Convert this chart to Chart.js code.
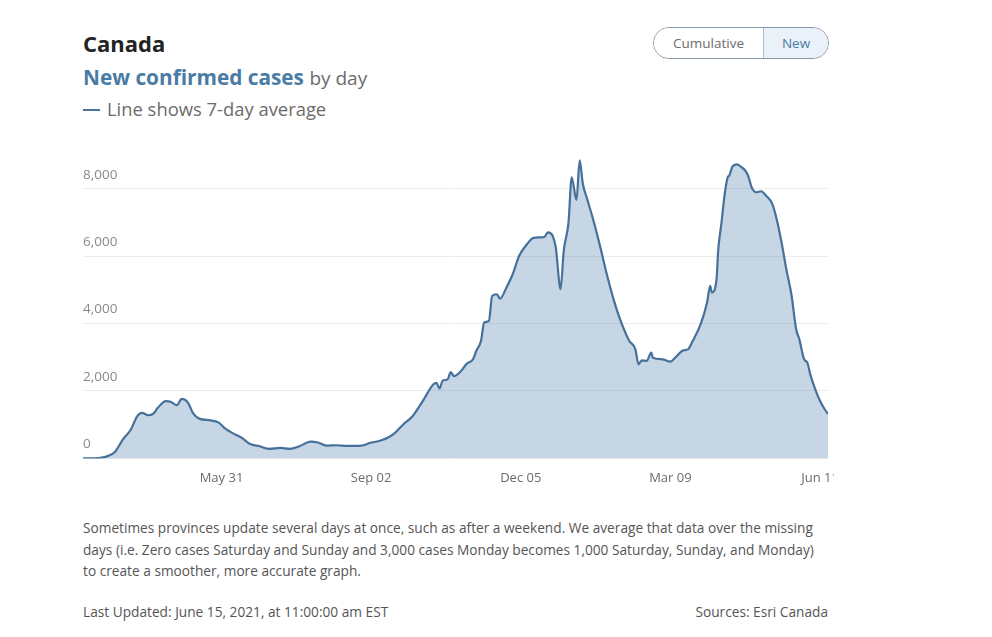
<!DOCTYPE html>
<html>
<head>
<meta charset="utf-8">
<script src="https://cdn.jsdelivr.net/npm/chart.js@4"></script>
<style>
  html, body { margin: 0; padding: 0; background: #fff; }
  body { width: 992px; height: 637px; position: relative; overflow: hidden; font-family: "Open Sans", sans-serif; }
  .abs { position: absolute; white-space: nowrap; }
  #place { left: 83px; top: 32px; font-size: 22px; line-height: 22px; font-weight: 700; color: #222; }
  #subtitle { left: 83px; top: 67px; font-size: 20.8px; line-height: 21px; color: #6b6b6b; }
  #subtitle b { color: #4a7ba4; font-weight: 700; }
  #subtitle span { font-size: 19px; }
  #legend { left: 83px; top: 99px; font-size: 18.4px; line-height: 19px; color: #6b6b6b; }
  #legend i { display: inline-block; width: 17px; height: 2px; background: #4a7399; vertical-align: middle; margin-right: 7px; position: relative; top: -1px; }
  #toggle { left: 653px; top: 27px; width: 174px; height: 30px; border: 1px solid #8797a6; border-radius: 16px; overflow: hidden; display: flex; font-size: 13.5px; }
  #toggle div { display: flex; align-items: center; justify-content: center; }
  #toggle .off { width: 109px; color: #6d6d6d; background: #fff; }
  #toggle .on { flex: 1; color: #4a7ba4; background: #eaf1f8; border-left: 1px solid #a9bccd; }
  #wrap { left: 83px; top: 155px; width: 751px; height: 343px; }
  #note { left: 83px; top: 517px; font-size: 13.7px; line-height: 21.5px; color: #555; }
  #updated { left: 83px; top: 601px; font-size: 13.7px; line-height: 21.5px; color: #555; }
  #sources { right: 164px; top: 601px; font-size: 13.7px; line-height: 21.5px; color: #555; }
</style>
</head>
<body>
<div class="abs" id="place">Canada</div>
<div class="abs" id="subtitle"><b>New confirmed cases</b> <span>by day</span></div>
<div class="abs" id="legend"><i></i>Line shows 7-day average</div>
<div class="abs" id="toggle"><div class="off">Cumulative</div><div class="on">New</div></div>
<div class="abs" id="wrap"><canvas id="cases"></canvas></div>
<div class="abs" id="note">Sometimes provinces update several days at once, such as after a weekend. We average that data over the missing<br>days (i.e. Zero cases Saturday and Sunday and 3,000 cases Monday becomes 1,000 Saturday, Sunday, and Monday)<br>to create a smoother, more accurate graph.</div>
<div class="abs" id="updated">Last Updated: June 15, 2021, at 11:00:00 am EST</div>
<div class="abs" id="sources">Sources: Esri Canada</div>
<script>
const dates = [
  "2020-03-05", "2020-03-12", "2020-03-16", "2020-03-20", "2020-03-25", "2020-03-30",
  "2020-04-04", "2020-04-08", "2020-04-11", "2020-04-15", "2020-04-18", "2020-04-21",
  "2020-04-26", "2020-04-29", "2020-05-03", "2020-05-06", "2020-05-10", "2020-05-13",
  "2020-05-17", "2020-05-24", "2020-05-29", "2020-06-02", "2020-06-07", "2020-06-13",
  "2020-06-18", "2020-06-24", "2020-06-30", "2020-07-07", "2020-07-13", "2020-07-19",
  "2020-07-26", "2020-07-30", "2020-08-05", "2020-08-11", "2020-08-18", "2020-08-27",
  "2020-09-01", "2020-09-08", "2020-09-13", "2020-09-17", "2020-09-22", "2020-09-28",
  "2020-10-05", "2020-10-11", "2020-10-13", "2020-10-15", "2020-10-17", "2020-10-20",
  "2020-10-22", "2020-10-24", "2020-10-28", "2020-11-01", "2020-11-05", "2020-11-07",
  "2020-11-10", "2020-11-12", "2020-11-15", "2020-11-17", "2020-11-20", "2020-11-22",
  "2020-11-26", "2020-11-30", "2020-12-04", "2020-12-09", "2020-12-13", "2020-12-17",
  "2020-12-20", "2020-12-22", "2020-12-25", "2020-12-27", "2020-12-30", "2021-01-01",
  "2021-01-04", "2021-01-06", "2021-01-09", "2021-01-11", "2021-01-13", "2021-01-16",
  "2021-01-20", "2021-01-24", "2021-01-28", "2021-02-01", "2021-02-05", "2021-02-11",
  "2021-02-15", "2021-02-17", "2021-02-19", "2021-02-22", "2021-02-25", "2021-02-26",
  "2021-03-04", "2021-03-09", "2021-03-13", "2021-03-17", "2021-03-20", "2021-03-23",
  "2021-03-28", "2021-04-01", "2021-04-03", "2021-04-04", "2021-04-07", "2021-04-08",
  "2021-04-10", "2021-04-12", "2021-04-14", "2021-04-15", "2021-04-17", "2021-04-20",
  "2021-04-22", "2021-04-25", "2021-04-27", "2021-04-29", "2021-05-02", "2021-05-05",
  "2021-05-08", "2021-05-12", "2021-05-15", "2021-05-18", "2021-05-21", "2021-05-24",
  "2021-05-27", "2021-05-29", "2021-06-01", "2021-06-03", "2021-06-05", "2021-06-08",
  "2021-06-11", "2021-06-14", "2021-06-16",
];
const newCases = [
  0, 5, 20, 60, 190, 560,
  850, 1250, 1350, 1280, 1320, 1500,
  1700, 1680, 1580, 1765, 1650, 1350,
  1180, 1130, 1070, 900, 750, 600,
  425, 360, 280, 310, 280, 360,
  500, 480, 380, 390, 370, 380,
  455, 530, 625, 755, 1000, 1250,
  1745, 2190, 2240, 2075, 2310, 2340,
  2560, 2440, 2570, 2805, 2940, 3185,
  3480, 4030, 4080, 4820, 4870, 4740,
  5070, 5470, 6010, 6360, 6540, 6555,
  6575, 6705, 6605, 6260, 5020, 6160,
  7000, 8340, 7670, 8840, 8145, 7650,
  7000, 6260, 5470, 4770, 4175, 3500,
  3235, 2790, 2910, 2890, 3135, 2985,
  2940, 2870, 3035, 3205, 3235, 3480,
  3980, 4620, 5120, 4920, 5320, 6160,
  6955, 7800, 8340, 8390, 8660, 8720,
  8660, 8540, 8360, 8045, 7895, 7925,
  7800, 7550, 7050, 6360, 5565, 4870,
  3830, 3530, 2940, 2840, 2470, 2045,
  1700, 1450, 1320,
];
const xTickDates = ["2020-05-31", "2020-09-02", "2020-12-05", "2021-03-09", "2021-06-11"];
const yTicks = [0, 2000, 4000, 6000, 8000];
const monthNames = ["Jan", "Feb", "Mar", "Apr", "May", "Jun", "Jul", "Aug", "Sep", "Oct", "Nov", "Dec"];

// dates become day numbers so the x axis can be a plain linear scale
const dayNum = (s) => {
  let p = s.split("-").map(Number);
  return Date.UTC(p[0], p[1] - 1, p[2]) / 86400000;
};
const dayLabel = (n) => {
  let d = new Date(n * 86400000);
  return `${monthNames[d.getUTCMonth()]} ${String(d.getUTCDate()).padStart(2, "0")}`;
};

let canvas = document.querySelector("#cases");
let ctx = canvas.getContext("2d");

let casesChart = new Chart(ctx, {
  type: "line",
  data: {
    datasets: [
      {
        data: dates.map((d, i) => ({ x: dayNum(d), y: newCases[i] })),
        borderColor: "#46719a",
        borderWidth: 2.2,
        backgroundColor: "rgba(70, 120, 165, 0.3)",
        fill: "origin",
        pointRadius: 0,
        cubicInterpolationMode: "monotone",
      },
    ],
  },
  options: {
    responsive: true,
    maintainAspectRatio: false,
    animation: false,
    layout: {
      padding: { left: 0, right: 6, top: 0, bottom: 0 },
    },
    plugins: {
      legend: { display: false },
      tooltip: { enabled: false },
    },
    scales: {
      x: {
        type: "linear",
        min: dayNum(dates[0]),
        max: dayNum(dates[dates.length - 1]),
        grid: { display: false, drawTicks: false },
        border: { display: false },
        afterBuildTicks: (axis) => {
          axis.ticks = xTickDates.map((d) => ({ value: dayNum(d) }));
        },
        afterFit: (axis) => {
          axis.paddingLeft = 0;
          axis.paddingRight = 0;
        },
        ticks: {
          autoSkip: false,
          maxRotation: 0,
          padding: 12,
          color: "#6b6b6b",
          font: { family: "'Open Sans', sans-serif", size: 13 },
          callback: (value) => dayLabel(value),
        },
      },
      y: {
        min: 0,
        max: 9000,
        grid: { drawTicks: false, color: "#ececec", lineWidth: 1 },
        border: { display: false },
        afterBuildTicks: (axis) => {
          axis.ticks = yTicks.map((v) => ({ value: v }));
        },
        afterFit: (axis) => {
          axis.width = 0;
          axis.paddingTop = 0;
          axis.paddingBottom = 0;
        },
        ticks: {
          mirror: true,
          padding: 0,
          labelOffset: -14,
          color: "#8a8a8a",
          font: { family: "'Open Sans', sans-serif", size: 13.5 },
          callback: (value) => value.toLocaleString("en-US"),
        },
      },
    },
  },
});
</script>
</body>
</html>
